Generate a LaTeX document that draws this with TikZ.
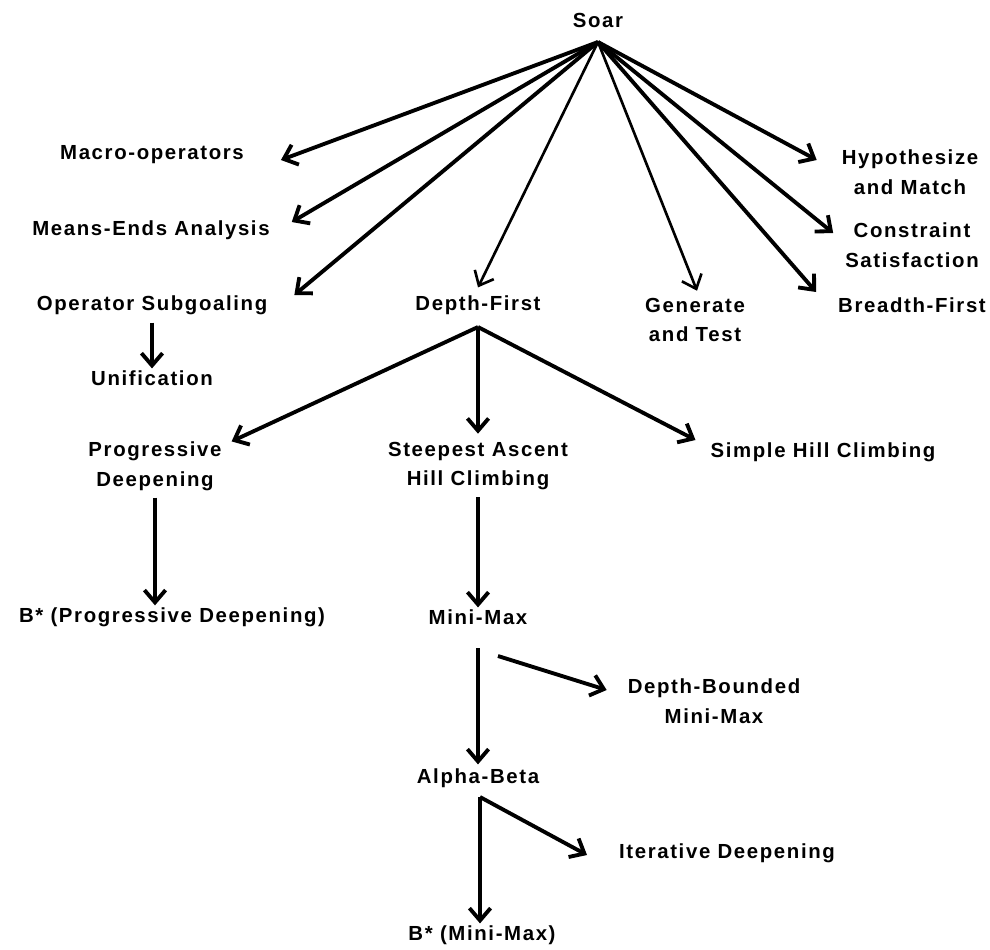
\documentclass[tikz,border=0pt]{standalone}
\usepackage{fontspec}
\setmainfont{Liberation Sans}[LetterSpace=8]
\usetikzlibrary{arrows.meta}
\def\thick{2.2pt}
\def\thin{1.5pt}
\tikzset{
  method/.style={font=\bfseries\fontsize{11.6}{17}\selectfont,align=center,inner sep=1pt},
  arr/.style={-{Straight Barb[length=7pt,width=12pt]},line width=\thick},
  tarr/.style={arr,line width=\thin}
}
\newcommand{\method}[4]{\node[method] (#3) at (#1,#2) {#4};}

\begin{document}
\begin{tikzpicture}
\useasboundingbox (0,0) rectangle (19.8,-18.98);
\method{11.96}{-0.40}{soar}{Soar}
\method{3.04}{-3.10}{macro}{Macro-operators}
\method{3.02}{-4.60}{means}{Means-Ends Analysis}
\method{3.04}{-6.10}{opsub}{Operator Subgoaling}
\method{9.56}{-6.10}{depth}{Depth-First}
\method{13.90}{-6.40}{gentest}{Generate\\and Test}
\method{18.24}{-6.10}{breadth}{Breadth-First}
\method{18.24}{-4.90}{constr}{Constraint\\Satisfaction}
\method{18.20}{-3.44}{hypo}{Hypothesize\\and Match}
\method{3.04}{-7.56}{unif}{Unification}
\method{3.10}{-9.32}{prog}{Progressive\\Deepening}
\method{9.56}{-9.32}{steep}{Steepest Ascent\\Hill Climbing}
\method{16.46}{-9.04}{simple}{Simple Hill Climbing}
\method{3.44}{-12.34}{bprog}{B* (Progressive Deepening)}
\method{9.56}{-12.34}{minimax}{Mini-Max}
\method{14.28}{-14.02}{dbmm}{Depth-Bounded\\Mini-Max}
\method{9.56}{-15.56}{alphabeta}{Alpha-Beta}
\method{14.54}{-17.06}{iter}{Iterative Deepening}
\method{9.64}{-18.70}{bmm}{B* (Mini-Max)}

\coordinate (soarfoot) at (11.96,-0.84);
\coordinate (depthfoot) at (9.56,-6.54);
\coordinate (mmfoot) at (9.56,-12.96);
\coordinate (abfoot) at (9.60,-15.94);

% Soar
\draw[arr] (soarfoot) -- ([shift={(0.7,-0.1)}]macro.east);
\draw[arr] (soarfoot) -- ([shift={(0.4,0.16)}]means.east);
\draw[arr] (soarfoot) -- ([shift={(0.5,0.2)}]opsub.east);
\draw[tarr] (soarfoot) -- ([yshift=0.12cm]depth.north);
\draw[tarr] (soarfoot) -- ([shift={(0.04,0.1)}]gentest.north);
\draw[arr] (soarfoot) -- ([shift={(-0.4,0.26)}]breadth.west);
\draw[arr] (soarfoot) -- ([shift={(-0.2,0.24)}]constr.west);
\draw[arr] (soarfoot) -- ([shift={(-0.46,0.24)}]hypo.west);
\draw[arr,shorten <=0.12cm] (opsub.south) -- (unif.north);

% Depth-First
\draw[arr] (depthfoot) -- ([shift={(0.16,-0.04)}]prog.north east);
\draw[arr] (depthfoot) -- ([yshift=0.12cm]steep.north);
\draw[arr] (depthfoot) -- ([shift={(-0.26,0.24)}]simple.west);
\draw[arr,shorten <=0.1cm] (prog.south) -- (prog.south |- bprog.north);
\draw[arr,shorten <=0.1cm] (steep.south) -- (minimax.north);

% Mini-Max and Alpha-Beta
\draw[arr] (mmfoot) -- ([yshift=0.04cm]alphabeta.north);
\draw[arr] ([shift={(0.4,-0.16)}]mmfoot) -- ([shift={(-0.38,0.22)}]dbmm.west);
\draw[arr] (abfoot) -- (abfoot |- bmm.north);
\draw[arr] (abfoot) -- ([shift={(-0.6,-0.04)}]iter.west);
\end{tikzpicture}
\end{document}
